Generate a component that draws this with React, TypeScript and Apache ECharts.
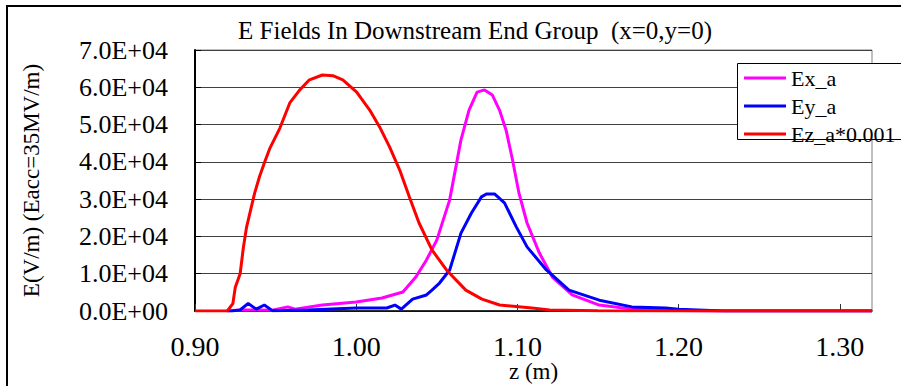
import React, { useEffect, useRef } from "react";
import * as echarts from "echarts";

const title = "E Fields In Downstream End Group  (x=0,y=0)";
const seriesNames = ["Ex_a", "Ey_a", "Ez_a*0.001"];
const seriesColors = ["#FF00FF", "#0000FF", "#FF0000"];

const exZ = [0.92, 0.928, 0.938, 0.948, 0.9576, 0.962, 0.979, 1.0, 1.016, 1.029, 1.037, 1.0436, 1.05, 1.058, 1.065, 1.07, 1.075, 1.0796, 1.0845, 1.0889, 1.093, 1.097, 1.101, 1.106, 1.1136, 1.1217, 1.134, 1.1508, 1.171, 1.192, 1.22, 1.32];
const exV = [0, 300, 300, 200, 1100, 500, 1600, 2400, 3500, 5100, 9100, 13700, 19000, 29800, 45900, 53900, 58700, 59300, 57900, 53900, 48500, 40500, 31600, 23600, 15600, 9100, 4300, 1600, 500, 200, 0, 0];

const eyZ = [0.92, 0.923, 0.928, 0.933, 0.938, 0.943, 0.948, 0.97, 1.0, 1.019, 1.024, 1.028, 1.035, 1.0436, 1.047, 1.0517, 1.058, 1.065, 1.0715, 1.0777, 1.0808, 1.0858, 1.092, 1.0994, 1.106, 1.118, 1.132, 1.1508, 1.171, 1.192, 1.2, 1.228, 1.32];
const eyV = [0, 0, 300, 2000, 500, 1600, 100, 300, 800, 800, 1600, 500, 3200, 4300, 5600, 7500, 11000, 20900, 26300, 30600, 31400, 31400, 29000, 22500, 17200, 11000, 5600, 2900, 1100, 800, 500, 0, 0];

const ezZ = [0.9, 0.92, 0.9235, 0.925, 0.928, 0.93, 0.932, 0.935, 0.937, 0.94, 0.943, 0.9465, 0.9526, 0.9588, 0.965, 0.971, 0.979, 0.9855, 0.9917, 1.0003, 1.0084, 1.0146, 1.0207, 1.027, 1.033, 1.039, 1.047, 1.056, 1.068, 1.078, 1.089, 1.109, 1.12, 1.15, 1.2, 1.25, 1.32];
const ezV = [0, 0, 2000, 6400, 10000, 17000, 22500, 28000, 31600, 36000, 39700, 43700, 49000, 55800, 59300, 62000, 63300, 63100, 62000, 58700, 53900, 49300, 44000, 37800, 30600, 23600, 16400, 11000, 5600, 3200, 1600, 800, 300, 100, 0, 0, 0];

const FONT = "Liberation Serif";

function zip(xs: number[], ys: number[]) {
  return xs.map((x, i) => [x, ys[i]]);
}

function sci(v: number) {
  if (v === 0) return "0.0E+00";
  const e = Math.floor(Math.log10(Math.abs(v)) + 1e-9);
  const m = v / Math.pow(10, e);
  const es = (e < 0 ? "-" : "+") + String(Math.abs(e)).padStart(2, "0");
  return m.toFixed(1) + "E" + es;
}

export default function App() {
  const ref = useRef<HTMLDivElement>(null);
  useEffect(() => {
    document.body.style.margin = "0";
    const chart = echarts.init(ref.current!, null, { renderer: "svg" });
    const data = [zip(exZ, exV), zip(eyZ, eyV), zip(ezZ, ezV)];
    chart.setOption({
      animation: false,
      backgroundColor: "#ffffff",
      title: {
        text: title,
        left: 470,
        top: 13,
        textAlign: "center",
        textStyle: { fontFamily: FONT, fontSize: 25, fontWeight: "normal", color: "#000" },
      },
      graphic: [
        {
          type: "rect",
          shape: { x: 7, y: 6, width: 1200, height: 1000 },
          style: { fill: "none", stroke: "#000", lineWidth: 2 },
          silent: true,
          z: 100,
        },
        {
          type: "rect",
          shape: { x: 737.5, y: 63.5, width: 300, height: 76 },
          style: { fill: "#fff", stroke: "#000", lineWidth: 1 },
          silent: true,
          z: 15,
        },
      ],
      legend: {
        orient: "vertical",
        left: 737,
        top: 63,
        z: 20,
        padding: [3, 5, 4, 7],
        itemGap: 4,
        itemWidth: 42,
        itemHeight: 3,
        icon: "rect",
        textStyle: { fontFamily: FONT, fontSize: 22, color: "#000", lineHeight: 24 },
        data: seriesNames,
      },
      grid: {
        left: 195,
        top: 50,
        right: 29,
        bottom: 75,
        show: true,
        borderColor: "#808080",
        borderWidth: 1,
        outerBoundsMode: "none",
        containLabel: false,
      },
      xAxis: {
        type: "value",
        min: 0.9,
        max: 1.32,
        interval: 0.1,
        name: "z (m)",
        nameLocation: "middle",
        nameGap: 49,
        nameMoveOverlap: false,
        nameTextStyle: { fontFamily: FONT, fontSize: 23, color: "#000", lineHeight: 22 },
        axisLine: { show: true, lineStyle: { color: "#000", width: 1.5 } },
        axisTick: { show: true, inside: true, length: 7, lineStyle: { color: "#333" } },
        axisLabel: {
          margin: 24,
          fontFamily: FONT,
          fontSize: 28,
          color: "#000",
          lineHeight: 22,
          showMaxLabel: false,
          formatter: (v: number) => v.toFixed(2),
        },
        splitLine: { show: false },
      },
      yAxis: {
        type: "value",
        min: 0,
        max: 70000,
        interval: 10000,
        name: "E(V/m) (Eacc=35MV/m)",
        nameLocation: "middle",
        nameRotate: 90,
        nameGap: 152,
        nameMoveOverlap: false,
        nameTextStyle: { fontFamily: FONT, fontSize: 23, color: "#000" },
        axisLine: { show: true, lineStyle: { color: "#000", width: 2 } },
        axisTick: { show: true, inside: true, length: 6, lineStyle: { color: "#000" } },
        axisLabel: {
          margin: 27,
          fontFamily: FONT,
          fontSize: 26,
          color: "#000",
          formatter: (v: number) => sci(v),
        },
        splitLine: { show: true, lineStyle: { color: "#404040", width: 1 } },
      },
      series: seriesNames.map((name, i) => ({
        name,
        type: "line",
        data: data[i],
        symbol: "none",
        smooth: false,
        color: seriesColors[i],
        lineStyle: { color: seriesColors[i], width: 3 },
        z: 2 + i,
      })),
    });
    return () => chart.dispose();
  }, []);
  return <div ref={ref} style={{ width: 901, height: 386 }} />;
}
